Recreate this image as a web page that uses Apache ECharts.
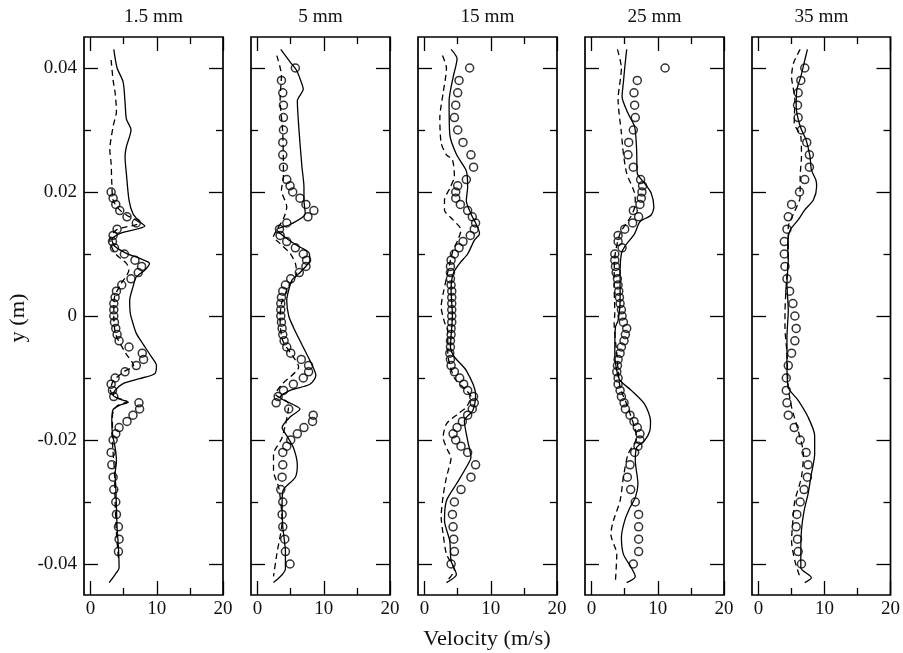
<!DOCTYPE html>
<html>
<head>
<meta charset="UTF-8">
<title>Velocity profiles</title>
<script src="https://cdn.jsdelivr.net/npm/echarts@6/dist/echarts.min.js"></script>
<style>
  html, body { margin: 0; padding: 0; background: #fff; }
  #main { width: 903px; height: 653px; }
</style>
</head>
<body>
<div id="main"></div>
<script>
// panel names and axis ticks
var panelTitles = ['1.5 mm', '5 mm', '15 mm', '25 mm', '35 mm'];
var xMajor = [0, 10, 20];
var xMinor = [5, 15];
var yMajor = [-0.04, -0.02, 0, 0.02, 0.04];
var yMinor = [-0.03, -0.01, 0.01, 0.03];

// circles = measurements, solid = simulation, dashed = second simulation  ([velocity, y])
var exp1 = [[3.1,0.020],[3.4,0.019],[3.8,0.018],[4.4,0.017],[5.5,0.016],[6.9,0.015],[4.0,0.014],[3.4,0.013],[3.3,0.012],[3.6,0.011],[5.1,0.010],[6.7,0.009],[7.7,0.008],[7.2,0.007],[6.1,0.006],[4.7,0.005],[3.9,0.004],[3.7,0.003],[3.5,0.002],[3.5,0.001],[3.5,0.000],[3.6,-0.001],[3.8,-0.002],[4.0,-0.003],[4.3,-0.004],[5.8,-0.005],[7.8,-0.006],[8.0,-0.007],[6.9,-0.008],[5.2,-0.009],[3.7,-0.010],[3.1,-0.011],[3.3,-0.012],[3.5,-0.013],[7.3,-0.014],[7.4,-0.015],[6.4,-0.016],[5.5,-0.017],[4.3,-0.018],[3.8,-0.019],[3.4,-0.020],[3.1,-0.022],[3.2,-0.024],[3.4,-0.026],[3.5,-0.028],[3.8,-0.030],[3.9,-0.032],[4.2,-0.034],[4.3,-0.036],[4.2,-0.038]];
var sim1 = [[3.5,0.043],[4.0,0.040],[4.9,0.0378],[5.2,0.0345],[5.4,0.0318],[6.1,0.030],[5.4,0.0273],[5.2,0.0257],[5.4,0.023],[5.8,0.0187],[6.4,0.0165],[7.4,0.0152],[8.2,0.0145],[4.4,0.0133],[3.2,0.0123],[3.7,0.0112],[5.4,0.0101],[7.4,0.0093],[8.9,0.0085],[8.2,0.0074],[6.9,0.0063],[6.4,0.0047],[5.9,0.0025],[6.0,0.0004],[6.4,-0.0012],[6.9,-0.0028],[7.9,-0.0045],[9.2,-0.0066],[9.95,-0.008],[9.7,-0.0093],[7.4,-0.0101],[4.9,-0.0109],[3.7,-0.012],[3.4,-0.0128],[4.4,-0.0134],[5.7,-0.0139],[4.4,-0.0144],[3.4,-0.0151],[3.2,-0.0169],[3.3,-0.019],[3.7,-0.0212],[3.9,-0.0233],[3.7,-0.0255],[3.8,-0.0276],[3.9,-0.0309],[4.0,-0.0341],[4.2,-0.0373],[4.3,-0.0406],[3.7,-0.0417],[2.8,-0.043]];
var dns1 = [[3.1,0.0413],[3.4,0.038],[3.7,0.036],[3.9,0.033],[3.4,0.0306],[2.9,0.0268],[3.1,0.0246],[3.2,0.0214],[3.4,0.0187],[4.3,0.0172],[5.4,0.0163],[7.4,0.0150],[3.9,0.0139],[2.9,0.0122],[3.7,0.0101],[5.4,0.0085],[5.8,0.0075],[4.5,0.005],[3.6,0.003],[3.5,0.000],[3.8,-0.003],[5.3,-0.006],[6.5,-0.008],[5.0,-0.009],[3.4,-0.0105],[3.0,-0.012],[3.6,-0.013],[5.5,-0.0138],[4.0,-0.0145],[3.3,-0.016],[3.3,-0.020],[3.6,-0.025],[3.7,-0.030],[3.9,-0.035],[4.2,-0.039]];

var exp2 = [[5.7,0.040],[3.6,0.038],[3.8,0.036],[3.9,0.034],[3.9,0.032],[3.9,0.030],[3.8,0.028],[3.8,0.026],[3.9,0.024],[4.4,0.022],[4.9,0.021],[5.3,0.020],[6.4,0.019],[7.3,0.018],[8.5,0.017],[7.6,0.016],[4.4,0.015],[3.3,0.014],[3.4,0.013],[4.4,0.012],[5.7,0.011],[6.9,0.010],[7.4,0.009],[7.3,0.008],[6.3,0.007],[5.0,0.006],[4.2,0.005],[3.8,0.004],[3.6,0.003],[3.5,0.002],[3.5,0.001],[3.5,0.000],[3.6,-0.001],[3.7,-0.002],[3.8,-0.003],[4.0,-0.004],[4.4,-0.005],[5.0,-0.006],[6.6,-0.007],[7.7,-0.008],[7.7,-0.009],[6.9,-0.010],[5.4,-0.011],[3.9,-0.012],[3.1,-0.013],[2.8,-0.014],[4.7,-0.015],[8.4,-0.016],[8.3,-0.017],[7.0,-0.018],[6.0,-0.019],[5.0,-0.020],[4.4,-0.021],[3.8,-0.022],[3.8,-0.024],[3.7,-0.026],[3.5,-0.028],[3.8,-0.030],[3.7,-0.032],[3.8,-0.034],[4.1,-0.036],[4.2,-0.038],[4.9,-0.040]];
var sim2 = [[3.5,0.043],[4.9,0.041],[5.9,0.0396],[6.7,0.0374],[6.9,0.0366],[6.0,0.0347],[6.3,0.0293],[6.7,0.024],[7.0,0.0208],[7.0,0.0187],[7.2,0.0165],[5.0,0.0148],[2.9,0.0139],[4.4,0.0125],[5.9,0.0114],[7.7,0.0103],[7.9,0.009],[7.2,0.0079],[6.2,0.0068],[5.2,0.0058],[4.7,0.0042],[4.4,0.0025],[4.7,0.000],[5.4,-0.0018],[6.4,-0.004],[7.9,-0.0072],[8.8,-0.0096],[7.9,-0.011],[4.9,-0.012],[3.4,-0.0131],[5.2,-0.0142],[6.4,-0.015],[4.9,-0.0163],[3.7,-0.018],[4.4,-0.0193],[5.4,-0.0212],[6.0,-0.024],[5.7,-0.026],[3.9,-0.028],[3.7,-0.030],[3.8,-0.034],[4.2,-0.038],[4.2,-0.0408],[2.4,-0.043]];
var dns2 = [[2.9,0.042],[3.6,0.0388],[3.4,0.035],[3.8,0.0295],[3.9,0.0225],[3.6,0.0203],[4.4,0.0176],[3.9,0.0157],[2.9,0.0139],[2.4,0.0128],[3.4,0.0117],[4.9,0.0101],[5.7,0.0085],[5.9,0.0068],[4.8,0.005],[3.6,0.002],[3.4,-0.001],[3.8,-0.004],[5.4,-0.0066],[6.2,-0.0082],[3.7,-0.011],[2.7,-0.0126],[4.7,-0.0142],[3.7,-0.0196],[2.4,-0.0223],[2.4,-0.025],[3.2,-0.0277],[3.7,-0.033],[2.9,-0.0384],[2.4,-0.042]];

var exp3 = [[6.8,0.040],[5.2,0.038],[5.0,0.036],[4.7,0.034],[4.5,0.032],[5.0,0.030],[5.8,0.028],[7.0,0.026],[7.4,0.024],[6.3,0.022],[5.0,0.021],[4.7,0.020],[4.7,0.019],[5.4,0.018],[6.5,0.017],[7.2,0.016],[7.7,0.015],[7.5,0.014],[6.9,0.013],[5.8,0.012],[5.2,0.011],[4.5,0.010],[4.0,0.009],[3.9,0.008],[3.9,0.007],[3.9,0.006],[4.0,0.005],[4.1,0.004],[4.1,0.003],[4.1,0.002],[4.1,0.001],[4.1,0.000],[4.1,-0.001],[4.0,-0.002],[4.0,-0.003],[3.9,-0.004],[3.9,-0.005],[3.8,-0.006],[3.9,-0.007],[4.0,-0.008],[4.5,-0.009],[5.3,-0.010],[5.9,-0.011],[6.5,-0.012],[7.4,-0.013],[7.5,-0.014],[7.2,-0.015],[6.5,-0.016],[5.7,-0.017],[4.9,-0.018],[4.3,-0.019],[4.7,-0.020],[5.5,-0.021],[6.5,-0.022],[7.7,-0.024],[7.0,-0.026],[5.5,-0.028],[4.5,-0.030],[4.2,-0.032],[4.3,-0.034],[4.4,-0.036],[4.5,-0.038],[4.0,-0.040]];
var sim3 = [[4.0,0.043],[4.9,0.0415],[4.3,0.0385],[3.7,0.0347],[3.8,0.0293],[4.8,0.0261],[6.3,0.0234],[6.5,0.0208],[6.3,0.0186],[7.0,0.0165],[8.3,0.0133],[7.5,0.0122],[6.5,0.010],[5.3,0.0085],[4.3,0.0068],[4.0,0.0042],[4.2,0.000],[3.9,-0.005],[4.5,-0.0066],[6.3,-0.0088],[7.7,-0.0126],[7.3,-0.0152],[6.0,-0.0169],[6.5,-0.0201],[7.0,-0.0228],[6.3,-0.0244],[4.8,-0.0271],[3.3,-0.0298],[3.0,-0.033],[3.8,-0.0363],[4.0,-0.0395],[4.8,-0.0417],[3.3,-0.043]];
var dns3 = [[2.7,0.042],[3.3,0.040],[2.8,0.036],[2.3,0.032],[2.5,0.0279],[3.3,0.026],[4.2,0.0252],[4.5,0.0225],[3.8,0.0206],[3.0,0.0187],[3.0,0.0171],[4.3,0.0155],[5.5,0.0139],[5.0,0.0122],[4.3,0.0106],[3.8,0.0085],[2.8,0.0036],[2.5,0.0015],[3.0,-0.001],[3.5,-0.0023],[3.5,-0.006],[4.5,-0.010],[6.3,-0.012],[7.0,-0.013],[6.3,-0.0147],[5.0,-0.0158],[3.3,-0.0174],[2.8,-0.0196],[3.5,-0.0217],[4.0,-0.0228],[3.3,-0.026],[2.8,-0.029],[2.5,-0.0324],[2.8,-0.0352],[3.3,-0.0384],[4.5,-0.041],[3.4,-0.0427]];

var exp4 = [[11.1,0.040],[6.9,0.038],[6.4,0.036],[6.5,0.034],[6.6,0.032],[6.3,0.030],[5.6,0.028],[5.5,0.026],[6.3,0.024],[7.4,0.022],[7.7,0.021],[7.6,0.020],[7.5,0.019],[7.3,0.018],[6.3,0.017],[7.1,0.016],[6.2,0.015],[5.0,0.014],[4.0,0.013],[4.0,0.012],[4.6,0.011],[3.5,0.010],[3.5,0.009],[3.6,0.008],[3.7,0.007],[3.9,0.006],[4.0,0.005],[4.1,0.004],[4.2,0.003],[4.3,0.002],[4.5,0.001],[4.6,0.000],[4.8,-0.001],[5.3,-0.002],[5.1,-0.003],[4.9,-0.004],[4.5,-0.005],[4.3,-0.006],[4.0,-0.007],[3.9,-0.008],[3.8,-0.009],[4.0,-0.010],[4.0,-0.011],[4.3,-0.012],[4.5,-0.013],[4.9,-0.014],[5.1,-0.015],[5.8,-0.016],[6.4,-0.017],[6.9,-0.018],[7.3,-0.019],[7.3,-0.020],[7.0,-0.021],[6.5,-0.022],[5.8,-0.024],[5.4,-0.026],[5.9,-0.028],[6.6,-0.030],[7.1,-0.032],[7.1,-0.034],[7.1,-0.036],[7.1,-0.038],[6.3,-0.040]];
var sim4 = [[5.3,0.043],[5.0,0.040],[4.8,0.0377],[4.6,0.0354],[5.5,0.0327],[6.5,0.0305],[6.8,0.0268],[6.9,0.023],[8.0,0.0214],[9.0,0.0198],[9.4,0.0176],[9.0,0.0163],[7.3,0.0152],[6.5,0.0133],[5.0,0.0112],[4.5,0.0101],[4.3,0.0068],[4.3,0.0025],[4.0,-0.0007],[3.6,-0.0018],[3.5,-0.006],[3.8,-0.0088],[4.3,-0.0104],[6.0,-0.012],[8.0,-0.0142],[8.9,-0.0169],[8.8,-0.0185],[8.0,-0.0201],[6.8,-0.0212],[6.6,-0.0233],[7.0,-0.0271],[6.6,-0.0293],[5.8,-0.0309],[5.0,-0.033],[4.5,-0.0357],[4.8,-0.0384],[6.0,-0.0406],[6.6,-0.042],[5.3,-0.043]];
var dns4 = [[3.9,0.043],[4.5,0.040],[4.0,0.0349],[4.5,0.0295],[4.8,0.0262],[5.3,0.023],[6.5,0.0198],[6.6,0.018],[5.9,0.016],[4.3,0.0133],[3.5,0.0095],[3.4,0.0052],[3.5,0.0004],[3.4,-0.0012],[3.8,-0.006],[4.3,-0.0115],[5.3,-0.0142],[6.5,-0.018],[6.8,-0.0196],[5.5,-0.0223],[4.8,-0.026],[4.3,-0.0298],[3.3,-0.033],[2.9,-0.0352],[3.8,-0.0384],[3.6,-0.0427]];

var exp5 = [[7.0,0.040],[6.4,0.038],[6.0,0.036],[5.9,0.034],[6.0,0.032],[6.5,0.030],[7.3,0.028],[7.7,0.026],[7.7,0.024],[7.0,0.022],[6.2,0.020],[5.0,0.018],[4.5,0.016],[4.3,0.014],[3.9,0.012],[3.9,0.010],[4.0,0.008],[4.3,0.006],[4.7,0.004],[5.2,0.002],[5.5,0.000],[5.7,-0.002],[5.5,-0.004],[5.0,-0.006],[4.5,-0.008],[4.2,-0.010],[4.2,-0.012],[4.3,-0.014],[4.5,-0.016],[5.4,-0.018],[6.3,-0.020],[7.2,-0.022],[7.5,-0.024],[7.4,-0.026],[6.9,-0.028],[6.3,-0.030],[5.8,-0.032],[5.7,-0.034],[5.9,-0.036],[6.0,-0.038],[6.5,-0.040]];
var sim5 = [[7.4,0.043],[6.9,0.0408],[6.4,0.0386],[5.8,0.0365],[5.7,0.0338],[6.3,0.0306],[7.2,0.0284],[7.8,0.0257],[8.0,0.0236],[8.7,0.0219],[8.8,0.0209],[8.3,0.0187],[7.0,0.0171],[6.0,0.0155],[4.8,0.0139],[4.4,0.0117],[4.5,0.009],[4.3,0.0052],[4.5,0.0009],[4.3,-0.0034],[4.3,-0.0077],[4.5,-0.0115],[6.0,-0.0136],[7.5,-0.0163],[8.5,-0.0193],[8.5,-0.0223],[8.0,-0.0255],[7.5,-0.0287],[6.9,-0.0314],[6.5,-0.0346],[6.4,-0.0384],[6.4,-0.0406],[8.0,-0.0422],[7.0,-0.043]];
var dns5 = [[6.3,0.043],[5.3,0.0408],[5.0,0.0386],[5.5,0.0349],[5.4,0.0311],[6.4,0.029],[6.5,0.0257],[6.3,0.0225],[6.3,0.0192],[5.3,0.0165],[4.5,0.0144],[4.5,0.0101],[4.2,0.0052],[4.0,0.0004],[4.0,-0.0018],[4.3,-0.006],[4.5,-0.0115],[5.0,-0.0147],[6.0,-0.0185],[6.8,-0.0223],[6.5,-0.026],[5.5,-0.0298],[5.2,-0.033],[5.0,-0.0363],[5.5,-0.0395],[6.3,-0.0422]];

var expAll = [exp1, exp2, exp3, exp4, exp5];
var simAll = [sim1, sim2, sim3, sim4, sim5];
var dnsAll = [dns1, dns2, dns3, dns4, dns5];

var fontFam = '"Liberation Serif", "DejaVu Serif", serif';
var panelLeft = [84, 251, 418, 585, 752];
var panelW = 139, panelTop = 37, panelH = 558;

var grids = [], xAxes = [], yAxes = [], series = [], graphics = [];

function xAx(gi, pos, vals, len, labels) {
  return {
    type: 'value', gridIndex: gi, position: pos, min: -1, max: 20,
    axisLine: { show: false, onZero: false },
    splitLine: { show: false },
    axisTick: { show: true, inside: true, length: len, customValues: vals,
      lineStyle: { color: '#000', width: 1.3 } },
    axisLabel: { show: labels, customValues: vals, margin: 5, color: '#111',
      fontFamily: fontFam, fontSize: 19 }
  };
}
function yAx(gi, pos, vals, len, labels) {
  return {
    type: 'value', gridIndex: gi, position: pos, min: -0.045, max: 0.045,
    axisLine: { show: false, onZero: false },
    splitLine: { show: false },
    axisTick: { show: true, inside: true, length: len, customValues: vals,
      lineStyle: { color: '#000', width: 1.3 } },
    axisLabel: { show: labels, customValues: vals, margin: 7, color: '#111',
      fontFamily: fontFam, fontSize: 19,
      formatter: function (v) { return v === 0 ? '0' : String(+v.toFixed(2)); } }
  };
}

for (var i = 0; i < 5; i++) {
  grids.push({ left: panelLeft[i], top: panelTop, width: panelW, height: panelH,
    show: true, borderColor: '#000', borderWidth: 1.7, backgroundColor: 'transparent' });
  xAxes.push(xAx(i, 'bottom', xMajor, 14, true));
  xAxes.push(xAx(i, 'bottom', xMinor, 7, false));
  xAxes.push(xAx(i, 'top', xMajor, 14, false));
  xAxes.push(xAx(i, 'top', xMinor, 7, false));
  yAxes.push(yAx(i, 'left', yMajor, 14, i === 0));
  yAxes.push(yAx(i, 'left', yMinor, 7, false));
  yAxes.push(yAx(i, 'right', yMajor, 14, false));
  yAxes.push(yAx(i, 'right', yMinor, 7, false));

  series.push({
    type: 'line', xAxisIndex: 4 * i, yAxisIndex: 4 * i, data: dnsAll[i],
    showSymbol: false, smooth: 0.25, silent: true,
    lineStyle: { color: '#000', width: 1.3, type: [6, 4] }
  });
  series.push({
    type: 'line', xAxisIndex: 4 * i, yAxisIndex: 4 * i, data: simAll[i],
    showSymbol: false, smooth: 0.25, silent: true,
    lineStyle: { color: '#000', width: 1.3 }
  });
  series.push({
    type: 'scatter', xAxisIndex: 4 * i, yAxisIndex: 4 * i, data: expAll[i],
    symbol: 'circle', symbolSize: 8, silent: true,
    itemStyle: { color: 'rgba(255,255,255,0)', borderColor: '#000', borderWidth: 1.5 }
  });

  graphics.push({
    type: 'text', x: panelLeft[i] + panelW / 2, y: 17, scaleX: 1.07,
    style: { text: panelTitles[i], fill: '#111', font: '18px ' + fontFam,
      textAlign: 'center', textVerticalAlign: 'middle' }
  });
}

graphics.push({
  type: 'text', x: 487, y: 640, scaleX: 1.12,
  style: { text: 'Velocity (m/s)', fill: '#111', font: '20px ' + fontFam,
    textAlign: 'center', textVerticalAlign: 'middle' }
});
graphics.push({
  type: 'text', x: 19, y: 318, rotation: Math.PI / 2, scaleX: 1.12,
  style: { text: 'y (m)', fill: '#111', font: '20px ' + fontFam,
    textAlign: 'center', textVerticalAlign: 'middle' }
});

var myChart = echarts.init(document.getElementById('main'), null, { renderer: 'canvas' });
myChart.setOption({
  animation: false,
  backgroundColor: '#fff',
  grid: grids,
  xAxis: xAxes,
  yAxis: yAxes,
  series: series,
  graphic: graphics
});
</script>
</body>
</html>
